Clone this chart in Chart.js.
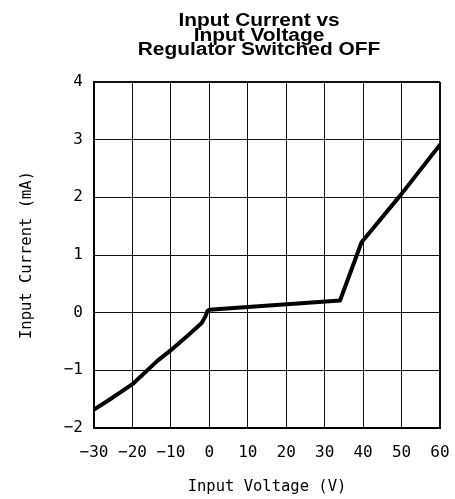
<!DOCTYPE html>
<html lang="en">
  <head>
    <meta charset="UTF-8" />
    <title>Input Current vs Input Voltage</title>
    <script src="https://cdn.jsdelivr.net/npm/chart.js"></script>
    <style>
      html, body { margin: 0; padding: 0; background: #fff; }
      #wrap { width: 455px; height: 499px; }
    </style>
  </head>
  <body>
    <div id="wrap"><canvas id="currentChart"></canvas></div>

    <script>
      // values (V, mA)
      const voltage = [-30, -26, -20, -13.6, -10, -5, -2, -1, -0.5, 0, 10, 34, 39.6, 50, 60];
      const current = [-1.68, -1.51, -1.24, -0.84, -0.65, -0.36, -0.18, -0.06, 0.03, 0.05, 0.1, 0.21, 1.22, 2.06, 2.91];

      const xTicks = [-30, -20, -10, 0, 10, 20, 30, 40, 50, 60];
      const yTicks = [-2, -1, 0, 1, 2, 3, 4];
      const titleLines = ["Input Current vs", "Input Voltage", "Regulator Switched OFF"];

      const minus = (v) => String(v).replace("-", "\u2212");

      // three line title, wide bold face, centred a bit left of the plot
      const titlePlugin = {
        id: "plotTitle",
        afterDraw(chart) {
          const c = chart.ctx;
          const sx = 1.16;
          c.save();
          c.scale(sx, 1);
          c.fillStyle = "#000";
          c.font = "bold 18px 'Liberation Sans', Arial, sans-serif";
          c.textAlign = "center";
          c.textBaseline = "alphabetic";
          titleLines.forEach((t, i) => c.fillText(t, 259 / sx, 26 + i * 14.5));
          c.restore();
        },
      };

      const ctx = document.getElementById("currentChart").getContext("2d");
      new Chart(ctx, {
        type: "scatter",
        data: {
          datasets: [
            {
              label: "Input Current",
              data: voltage.map((v, i) => ({ x: v, y: current[i] })),
              showLine: true,
              borderColor: "#000",
              borderWidth: 4,
              pointRadius: 0,
              tension: 0,
              borderJoinStyle: "round",
              borderCapStyle: "round",
            },
          ],
        },
        options: {
          responsive: true,
          maintainAspectRatio: false,
          animation: false,
          layout: { padding: { top: 82, right: 15, left: 0, bottom: 0 } },
          plugins: {
            legend: { display: false },
            title: { display: false },
            tooltip: { enabled: false },
          },
          scales: {
            x: {
              type: "linear",
              min: -30,
              max: 60,
              afterFit: (s) => {
                s.height = 71;
                s.paddingRight = 0;
                s.paddingLeft = 0;
              },
              afterBuildTicks: (s) => { s.ticks = xTicks.map((v) => ({ value: v })); },
              ticks: {
                color: "#000",
                padding: 15,
                maxRotation: 0,
                font: { family: "'DejaVu Sans Mono', monospace", size: 16 },
                callback: minus,
              },
              grid: {
                color: "#111",
                drawTicks: false,
                lineWidth: (c) => (c.tick && c.tick.value === 60 ? 2 : 1),
              },
              border: { display: true, color: "#000", width: 2 },
              title: {
                display: true,
                text: "Input Voltage (V)",
                color: "#000",
                font: { family: "'DejaVu Sans Mono', monospace", size: 15.5 },
                padding: { top: 0, bottom: 3 },
              },
            },
            y: {
              type: "linear",
              min: -2,
              max: 4,
              afterFit: (s) => { s.width = 94; },
              afterBuildTicks: (s) => { s.ticks = yTicks.map((v) => ({ value: v })); },
              ticks: {
                color: "#000",
                padding: 11,
                font: { family: "'DejaVu Sans Mono', monospace", size: 16 },
                callback: minus,
              },
              grid: {
                color: "#111",
                drawTicks: false,
                lineWidth: (c) => (c.tick && c.tick.value === 4 ? 2 : 1),
              },
              border: { display: true, color: "#000", width: 2 },
              title: {
                display: true,
                text: "Input Current (mA)",
                color: "#000",
                font: { family: "'DejaVu Sans Mono', monospace", size: 15.5 },
                padding: { top: 18, bottom: 0 },
              },
            },
          },
        },
        plugins: [titlePlugin],
      });
    </script>
  </body>
</html>
